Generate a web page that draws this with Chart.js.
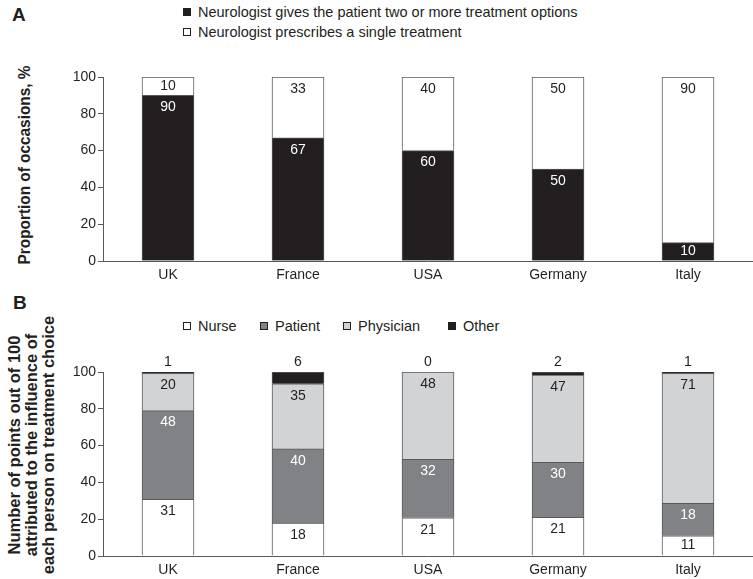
<!DOCTYPE html>
<html lang="en">
<head>
<meta charset="UTF-8">
<title>Treatment choice by country</title>
<script src="https://cdn.jsdelivr.net/npm/chart.js@4"></script>
<style>
*{box-sizing:border-box}
body{margin:0;width:753px;height:579px;position:relative;overflow:hidden;background:#fff;font-family:"Liberation Sans",Arial,sans-serif;color:#231f20}
.panel-label{position:absolute;font-weight:700;font-size:19px;line-height:20px}
.ytitle{position:absolute;font-weight:700;font-size:16px;line-height:17px;white-space:nowrap;text-align:center}
.legend-item{position:absolute;display:flex;align-items:center;font-size:14.5px;line-height:16px;white-space:nowrap;transform:translateY(-50%)}
.swatch{width:8px;height:8px;border:1px solid #231f20;margin-right:7px;flex-shrink:0}
canvas{position:absolute;left:0}
</style>
</head>
<body>
<div class="panel-label" style="left:12px;top:5px">A</div>
<div class="panel-label" style="left:13px;top:293px">B</div>
<div class="ytitle" style="left:24px;top:165px;transform:translate(-50%,-50%) rotate(-90deg) scaleX(0.96)">Proportion of occasions, %</div>
<div class="ytitle" style="left:31px;top:445px;transform:translate(-50%,-50%) rotate(-90deg) scaleX(1.03)">Number of points out of 100<br>attributed to the influence of<br>each person on treatment choice</div>
<div id="legend-a"></div>
<div id="legend-b"></div>
<canvas id="chart-a" width="753" height="290" style="top:0"></canvas>
<canvas id="chart-b" width="753" height="289" style="top:290px"></canvas>
<script>
const countries = ['UK', 'France', 'USA', 'Germany', 'Italy'];

// Panel A: proportion of occasions, %
const optionsLabels = ['Neurologist gives the patient two or more treatment options', 'Neurologist prescribes a single treatment'];
const multipleOptions = [90, 67, 60, 50, 10];
const singleTreatment = [10, 33, 40, 50, 90];

// Panel B: points out of 100 (segment heights, labels are rounded)
const influenceLabels = ['Nurse', 'Patient', 'Physician', 'Other'];
const nursePoints = [30.8, 17.9, 20.8, 21.0, 11.0];
const patientPoints = [48.2, 40.3, 31.7, 29.9, 17.6];
const physicianPoints = [20.3, 35.4, 47.5, 47.4, 70.7];
const otherPoints = [0.7, 6.4, 0, 1.7, 0.7];

const yTicks = [0, 20, 40, 60, 80, 100];

const BLACK = '#231f20', DARK = '#808285', LIGHT = '#d1d3d4', WHITE = '#ffffff', EDGE = '#58595b';
const FONT = '"Liberation Sans", Arial, sans-serif';

Chart.defaults.font.family = FONT;
Chart.defaults.font.size = 14;
Chart.defaults.color = BLACK;

const valueLabels = {
  id: 'valueLabels',
  afterDatasetsDraw(chart) {
    const ctx = chart.ctx;
    ctx.save();
    ctx.font = '14px ' + FONT;
    ctx.textAlign = 'center';
    ctx.textBaseline = 'middle';
    chart.data.datasets.forEach((ds, i) => {
      chart.getDatasetMeta(i).data.forEach((bar, j) => {
        const top = bar.y, bottom = bar.base;
        let y;
        if (ds.labelAbove) y = top - 10;
        else if (bottom - top < 24) y = (top + bottom) / 2;
        else y = top + 12;
        ctx.fillStyle = ds.labelColor;
        ctx.fillText(String(Math.round(ds.data[j])), bar.x, y);
      });
    });
    ctx.restore();
  }
};

function makeOptions(padTop, padBottom, xHeight) {
  return {
    responsive: false,
    animation: false,
    events: [],
    layout: { padding: { top: padTop, bottom: padBottom, left: 0, right: 0 } },
    plugins: { legend: { display: false }, tooltip: { enabled: false } },
    datasets: { bar: { categoryPercentage: 1, barPercentage: 0.4, borderWidth: 1, borderColor: EDGE, inflateAmount: 0.33 } },
    scales: {
      x: {
        stacked: true,
        grid: { display: false, drawTicks: false },
        border: { display: true, color: EDGE, width: 1 },
        ticks: { padding: 6, color: BLACK },
        afterFit(s) { s.height = xHeight; }
      },
      y: {
        stacked: true,
        min: 0,
        max: 100,
        afterBuildTicks(s) { s.ticks = yTicks.map(v => ({ value: v })); },
        grid: { drawOnChartArea: false, drawTicks: true, tickLength: 5, color: EDGE },
        border: { display: true, color: EDGE, width: 1 },
        ticks: { padding: 2, color: BLACK },
        afterFit(s) { s.width = 103; }
      }
    }
  };
}

new Chart(document.getElementById('chart-a'), {
  type: 'bar',
  data: {
    labels: countries,
    datasets: [
      { label: optionsLabels[0], data: multipleOptions, backgroundColor: BLACK, labelColor: WHITE },
      { label: optionsLabels[1], data: singleTreatment, backgroundColor: WHITE, labelColor: BLACK }
    ]
  },
  options: makeOptions(77, 0, 29),
  plugins: [valueLabels]
});

new Chart(document.getElementById('chart-b'), {
  type: 'bar',
  data: {
    labels: countries,
    datasets: [
      { label: influenceLabels[0], data: nursePoints, backgroundColor: WHITE, labelColor: BLACK },
      { label: influenceLabels[1], data: patientPoints, backgroundColor: DARK, labelColor: WHITE },
      { label: influenceLabels[2], data: physicianPoints, backgroundColor: LIGHT, labelColor: BLACK },
      { label: influenceLabels[3], data: otherPoints, backgroundColor: BLACK, labelColor: BLACK, labelAbove: true }
    ]
  },
  options: makeOptions(82, 0, 23),
  plugins: [valueLabels]
});

// html legends
function legend(el, names, colors, spots) {
  el.innerHTML = names.map((n, i) =>
    '<div class="legend-item" style="left:' + spots[i][0] + 'px;top:' + spots[i][1] + 'px">' +
    '<span class="swatch" style="background:' + colors[i] + '"></span>' + n + '</div>').join('');
}
legend(document.getElementById('legend-a'), optionsLabels, [BLACK, WHITE], [[183, 12], [183, 32]]);
legend(document.getElementById('legend-b'), influenceLabels, [WHITE, DARK, LIGHT, BLACK], [[183, 326], [260, 326], [343, 326], [448, 326]]);
</script>
</body>
</html>
